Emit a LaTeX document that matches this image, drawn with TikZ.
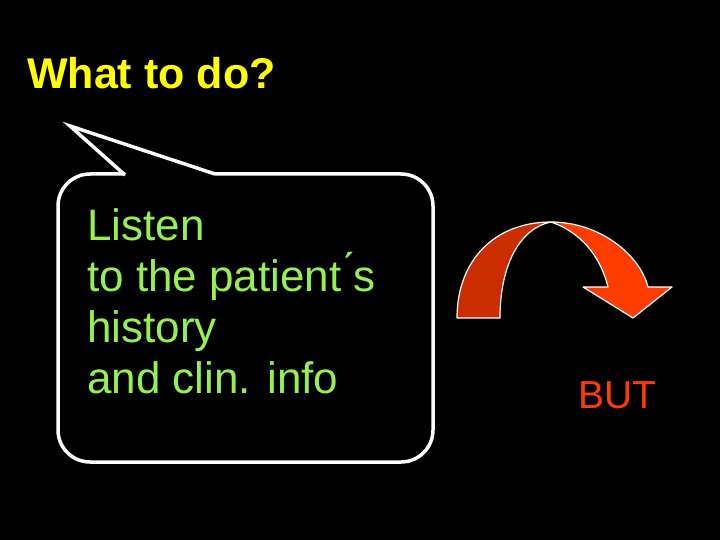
\documentclass[tikz,border=0pt]{standalone}
\usepackage{fontspec}
\setmainfont{Liberation Sans}
\definecolor{slideyellow}{RGB}{255,255,0}
\definecolor{listengreen}{RGB}{150,240,80}
\definecolor{arrowdark}{RGB}{204,45,0}
\definecolor{arrowlight}{RGB}{255,60,0}
\begin{document}
\begin{tikzpicture}[x=1pt,y=-1pt]
  \tikzstyle{txt}=[anchor=base west, inner sep=0pt, font=\fontsize{44}{51}\selectfont]
  \tikzstyle{band}=[draw=white, line width=1.2pt, line join=round]
  \fill[black] (0,0) rectangle (720,540);
  % callout
  \draw[white, line width=3.5pt, rounded corners=32pt]
    (215,174) -- (433,174) -- (433,462) -- (58,462) -- (58,174) -- (125,174);
  \draw[white, line width=3.5pt, line join=miter] (125,175) -- (70,126) -- (215,174);
  \node[txt, text=slideyellow, font=\bfseries\fontsize{43}{48}\selectfont] (title) at (27,89) {What to do?};
  \node[txt, text=listengreen, align=left] (listen) at (87,393)
    {Listen\\to the patient\'{}s\\history\\and clin. info};
  \node[txt, text=arrowlight, font=\fontsize{39}{46}\selectfont] (but) at (578,408) {BUT};
  % curved arrow
  \path[band, fill=arrowdark] (457,318) .. controls (457,260) and (495,222) .. (551,222)
    .. controls (520,228) and (500,265) .. (500,318) -- cycle;
  \path[band, fill=arrowlight] (551,222) .. controls (600,222) and (640,255) .. (648,287)
    -- (672,287) -- (633,318) -- (583,287) -- (608,287)
    .. controls (600,255) and (580,232) .. (551,222) -- cycle;
\end{tikzpicture}
\end{document}
